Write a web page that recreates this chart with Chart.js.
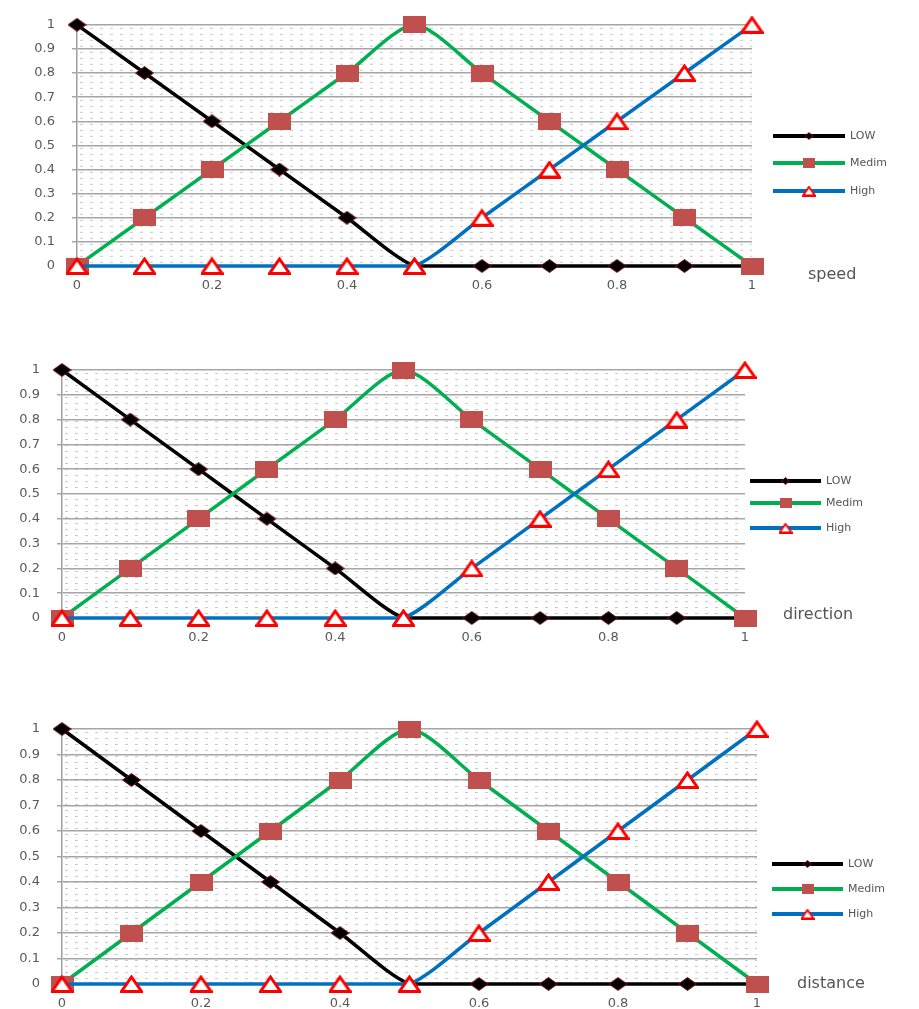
<!DOCTYPE html>
<html>
<head>
<meta charset="utf-8">
<script src="https://cdn.jsdelivr.net/npm/chart.js"></script>
<style>
  html, body { margin: 0; padding: 0; background: #fff; }
  .panel { position: absolute; left: 0; }
</style>
</head>
<body>
<canvas id="speedChart" class="panel" width="919" height="305" style="top:0px"></canvas>
<canvas id="directionChart" class="panel" width="919" height="335" style="top:325px"></canvas>
<canvas id="distanceChart" class="panel" width="919" height="324" style="top:685px"></canvas>
<script>
// membership values, same for all three inputs
const xValues = [0, 0.1, 0.2, 0.3, 0.4, 0.5, 0.6, 0.7, 0.8, 0.9, 1];
const lowValues = [1, 0.8, 0.6, 0.4, 0.2, 0, 0, 0, 0, 0, 0];
const medimValues = [0, 0.2, 0.4, 0.6, 0.8, 1, 0.8, 0.6, 0.4, 0.2, 0];
const highValues = [0, 0, 0, 0, 0, 0, 0.2, 0.4, 0.6, 0.8, 1];
const seriesNames = ['LOW', 'Medim', 'High'];
const panelNames = ['speed', 'direction', 'distance'];

const COLORS = { low: '#000000', medim: '#00b050', high: '#0070c0', square: '#c0504d', tri: '#ff0000' };

function makeMarker(kind, w, h) {
  const c = document.createElement('canvas');
  c.width = w; c.height = h;
  const g = c.getContext('2d');
  if (kind === 'diamond') {
    g.beginPath();
    g.moveTo(w / 2, 0.5); g.lineTo(w - 0.5, h / 2); g.lineTo(w / 2, h - 0.5); g.lineTo(0.5, h / 2);
    g.closePath();
    g.fillStyle = '#000';
    g.fill();
    g.strokeStyle = '#7a1010';
    g.lineWidth = 1;
    g.stroke();
  } else if (kind === 'square') {
    g.fillStyle = COLORS.square;
    g.fillRect(0, 0, w, h);
  } else {
    const lw = Math.max(2, Math.round(h / 6));
    g.beginPath();
    g.moveTo(w / 2, lw / 2 + 0.5); g.lineTo(w - lw / 2, h - lw / 2); g.lineTo(lw / 2, h - lw / 2);
    g.closePath();
    g.fillStyle = '#fff';
    g.fill();
    g.strokeStyle = COLORS.tri;
    g.lineWidth = lw;
    g.lineJoin = 'miter';
    g.stroke();
  }
  return c;
}

const markers = {
  diamond: makeMarker('diamond', 19, 14),
  square: makeMarker('square', 23, 17),
  triangle: makeMarker('triangle', 23, 18)
};
const legendMarkers = {
  diamond: makeMarker('diamond', 9, 8),
  square: makeMarker('square', 12, 10),
  triangle: makeMarker('triangle', 14, 11)
};

function dotPattern() {
  const c = document.createElement('canvas');
  c.width = 10; c.height = 6;
  const g = c.getContext('2d');
  g.fillStyle = 'rgba(150,150,150,0.5)';
  g.fillRect(3, 3, 3, 1);
  return c;
}
const patternTile = dotPattern();

const backgroundPlugin = {
  id: 'dotBackground',
  beforeDraw(chart) {
    const { ctx, chartArea: a } = chart;
    ctx.save();
    const p = ctx.createPattern(patternTile, 'repeat');
    ctx.translate(a.left, a.top);
    ctx.fillStyle = p;
    ctx.fillRect(0, 0, a.right - a.left, a.bottom - a.top);
    ctx.restore();
  }
};

const decorPlugin = {
  id: 'panelDecor',
  afterDraw(chart, args, opts) {
    const ctx = chart.ctx;
    ctx.save();
    const lineColors = [COLORS.low, COLORS.medim, COLORS.high];
    const ms = [legendMarkers.diamond, legendMarkers.square, legendMarkers.triangle];
    seriesNames.forEach((name, i) => {
      const y = opts.legendY[i];
      ctx.strokeStyle = lineColors[i];
      ctx.lineWidth = 4;
      ctx.beginPath();
      ctx.moveTo(opts.legendX1, y);
      ctx.lineTo(opts.legendX2, y);
      ctx.stroke();
      const mx = (opts.legendX1 + opts.legendX2) / 2;
      ctx.drawImage(ms[i], mx - ms[i].width / 2, y - ms[i].height / 2);
      ctx.fillStyle = '#555';
      ctx.font = '11px "DejaVu Sans"';
      ctx.textBaseline = 'middle';
      ctx.textAlign = 'left';
      ctx.fillText(name, opts.legendX2 + 5, y);
    });
    ctx.fillStyle = '#555';
    ctx.font = '16px "DejaVu Sans"';
    ctx.textBaseline = 'middle';
    ctx.textAlign = 'left';
    ctx.fillText(opts.label, opts.labelX, opts.labelY);
    ctx.restore();
  }
};

function toPoints(values) {
  return xValues.map((x, i) => ({ x: x, y: values[i] }));
}

function fmt(value) {
  return String(Math.round(value * 10) / 10);
}

function buildChart(id, label, area, decor) {
  const canvas = document.getElementById(id);
  const W = canvas.width, H = canvas.height;
  const yAxisWidth = 45, xAxisHeight = 30;
  const common = {
    showLine: true,
    borderWidth: 3.5,
    tension: 0.25,
    clip: false,
    pointHoverRadius: 0
  };
  return new Chart(canvas, {
    type: 'scatter',
    data: {
      datasets: [
        Object.assign({ label: seriesNames[0], data: toPoints(lowValues), borderColor: COLORS.low, pointStyle: markers.diamond, order: 3 }, common),
        Object.assign({ label: seriesNames[1], data: toPoints(medimValues), borderColor: COLORS.medim, pointStyle: markers.square, order: 2 }, common),
        Object.assign({ label: seriesNames[2], data: toPoints(highValues), borderColor: COLORS.high, pointStyle: markers.triangle, order: 1 }, common)
      ]
    },
    options: {
      responsive: false,
      animation: false,
      events: [],
      layout: {
        padding: {
          left: area.left - yAxisWidth,
          right: W - area.right,
          top: area.top,
          bottom: H - area.bottom - xAxisHeight
        }
      },
      plugins: {
        legend: { display: false },
        tooltip: { enabled: false },
        panelDecor: decor
      },
      scales: {
        x: {
          type: 'linear',
          min: 0,
          max: 1,
          ticks: { stepSize: 0.2, padding: 4, color: '#595959', callback: fmt, font: { family: 'DejaVu Sans', size: 13 } },
          grid: { display: false },
          border: { display: true, color: '#a0a0a0', width: 1.5 },
          afterFit(scale) { scale.height = xAxisHeight; }
        },
        y: {
          min: 0,
          max: 1,
          ticks: { stepSize: 0.1, padding: 17, color: '#595959', callback: fmt, font: { family: 'DejaVu Sans', size: 13 } },
          grid: { color: '#a6a6a6', lineWidth: 1.5, tickLength: 5 },
          border: { display: true, color: '#a0a0a0', width: 1.5 },
          afterFit(scale) { scale.width = yAxisWidth; }
        }
      }
    },
    plugins: [backgroundPlugin, decorPlugin]
  });
}

buildChart('speedChart', panelNames[0],
  { left: 77, right: 752, top: 21, bottom: 266 },
  { legendX1: 773, legendX2: 845, legendY: [136, 163, 191], label: panelNames[0], labelX: 808, labelY: 275 });

buildChart('directionChart', panelNames[1],
  { left: 62, right: 745, top: 45, bottom: 293 },
  { legendX1: 750, legendX2: 821, legendY: [156, 178, 203], label: panelNames[1], labelX: 783, labelY: 290 });

buildChart('distanceChart', panelNames[2],
  { left: 62, right: 757, top: 44, bottom: 299 },
  { legendX1: 772, legendX2: 843, legendY: [179, 204, 229], label: panelNames[2], labelX: 797, labelY: 299 });
</script>
</body>
</html>
